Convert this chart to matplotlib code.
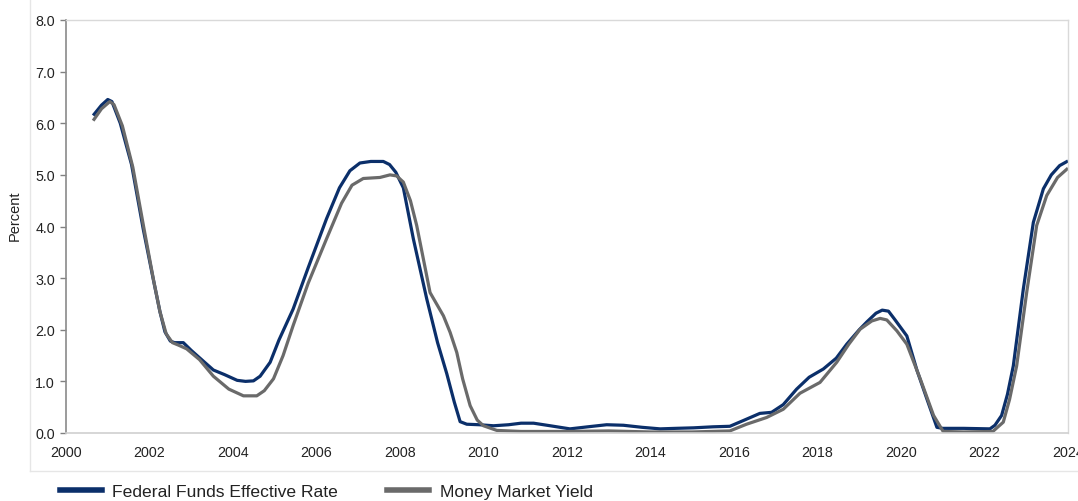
import matplotlib
matplotlib.use("Agg")
import matplotlib.pyplot as plt
from matplotlib.lines import Line2D

plt.rcParams['font.family'] = ['Liberation Sans', 'DejaVu Sans']

fed_years = [2000.65, 2000.85, 2001.0, 2001.1, 2001.3, 2001.57, 2001.85, 2002.09, 2002.25, 2002.37,
             2002.5, 2002.6, 2002.81, 2003.0, 2003.25, 2003.53, 2003.8, 2004.1, 2004.3, 2004.49,
             2004.65, 2004.89, 2005.1, 2005.44, 2005.8, 2006.24, 2006.55, 2006.8, 2007.04, 2007.3,
             2007.6, 2007.75, 2007.9, 2008.08, 2008.32, 2008.64, 2008.9, 2009.12, 2009.3, 2009.44,
             2009.6, 2009.9, 2010.24, 2010.6, 2010.9, 2011.2, 2011.6, 2012.07, 2012.5, 2012.95,
             2013.35, 2013.8, 2014.23, 2014.6, 2015.03, 2015.5, 2015.9, 2016.22, 2016.62, 2016.9,
             2017.18, 2017.5, 2017.8, 2018.14, 2018.45, 2018.7, 2019.0, 2019.18, 2019.4, 2019.55,
             2019.7, 2019.85, 2020.14, 2020.38, 2020.62, 2020.86, 2021.0, 2021.5, 2022.13, 2022.25,
             2022.41, 2022.55, 2022.69, 2022.93, 2023.17, 2023.41, 2023.6, 2023.8, 2024.0]
fed_rate = [6.15, 6.35, 6.46, 6.42, 6.0, 5.2, 3.95, 2.98, 2.35, 1.96,
            1.78, 1.75, 1.75, 1.6, 1.42, 1.22, 1.13, 1.02, 1.0, 1.01,
            1.1, 1.37, 1.8, 2.4, 3.2, 4.15, 4.75, 5.08, 5.23, 5.26,
            5.26, 5.2, 5.05, 4.75, 3.76, 2.6, 1.75, 1.15, 0.6, 0.22,
            0.17, 0.16, 0.14, 0.16, 0.19, 0.19, 0.14, 0.08, 0.12, 0.16,
            0.15, 0.11, 0.08, 0.09, 0.10, 0.12, 0.13, 0.24, 0.38, 0.40,
            0.55, 0.85, 1.08, 1.24, 1.45, 1.72, 2.0, 2.15, 2.32, 2.38,
            2.36, 2.2, 1.88, 1.22, 0.66, 0.11, 0.09, 0.09, 0.08, 0.15,
            0.34, 0.75, 1.30, 2.79, 4.08, 4.73, 5.0, 5.18, 5.27]

mm_years = [2000.65, 2000.85, 2001.05, 2001.15, 2001.35, 2001.6, 2001.87, 2002.1, 2002.25, 2002.4,
            2002.55, 2002.7, 2002.89, 2003.2, 2003.53, 2003.9, 2004.25, 2004.57, 2004.75, 2004.97,
            2005.2, 2005.44, 2005.8, 2006.24, 2006.6, 2006.85, 2007.12, 2007.52, 2007.76, 2007.92,
            2008.08, 2008.25, 2008.4, 2008.72, 2009.04, 2009.2, 2009.36, 2009.5, 2009.68, 2009.85,
            2010.0, 2010.32, 2010.9, 2012.0, 2013.0, 2014.0, 2015.0, 2015.9, 2016.3, 2016.78,
            2017.18, 2017.58, 2018.06, 2018.46, 2018.75, 2019.02, 2019.3, 2019.5, 2019.66, 2019.9,
            2020.14, 2020.46, 2020.78, 2021.01, 2021.5, 2022.2, 2022.45, 2022.6, 2022.77, 2023.01,
            2023.25, 2023.49, 2023.75, 2024.0]
mm_yield = [6.05, 6.28, 6.42, 6.36, 5.95, 5.15, 3.95, 2.95, 2.35, 1.92,
            1.75, 1.7, 1.63, 1.42, 1.1, 0.85, 0.72, 0.72, 0.82, 1.05,
            1.5, 2.08, 2.9, 3.76, 4.45, 4.8, 4.93, 4.95, 5.0, 4.98,
            4.86, 4.5, 4.02, 2.72, 2.27, 1.95, 1.56, 1.05, 0.53, 0.25,
            0.14, 0.05, 0.03, 0.03, 0.04, 0.02, 0.02, 0.04, 0.17, 0.30,
            0.46, 0.77, 0.98, 1.37, 1.72, 2.01, 2.17, 2.22, 2.19, 1.98,
            1.72, 1.05, 0.34, 0.03, 0.02, 0.03, 0.21, 0.65, 1.30, 2.72,
            4.02, 4.60, 4.95, 5.13]

x_ticks = [2000, 2002, 2004, 2006, 2008, 2010, 2012, 2014, 2016, 2018, 2020, 2022, 2024]
y_ticks = [0, 1, 2, 3, 4, 5, 6, 7, 8]

BLUE = '#0B2F6A'
GRAY = '#6A6A6A'

W, H = 1078, 502
fig = plt.figure(figsize=(W / 100, H / 100), dpi=100)
ax = fig.add_axes([66 / W, 1 - 434 / H, (1068 - 66) / W, (434 - 21) / H])

ax.plot(fed_years, fed_rate, color=BLUE, lw=2.3, solid_capstyle='butt', solid_joinstyle='round')
ax.plot(mm_years, mm_yield, color=GRAY, lw=2.3, solid_capstyle='butt', solid_joinstyle='round')

ax.set_xlim(2000, 2024)
ax.set_ylim(0, 8)
ax.set_xticks(x_ticks)
ax.set_xticklabels([str(t) for t in x_ticks], fontsize=10.3, color='#222222')
ax.set_yticks(y_ticks)
ax.set_yticklabels([f"{t:.1f}" for t in y_ticks], fontsize=10.3, color='#222222')
ax.tick_params(axis='x', length=0, pad=9)
ax.tick_params(axis='y', length=4, width=1, color='#808080', pad=4, direction='out')

for s in ['left', 'bottom']:
    ax.spines[s].set_color('#8A8A8A')
    ax.spines[s].set_linewidth(1.2)
for s in ['top', 'right']:
    ax.spines[s].set_color('#D9D9D9')
    ax.spines[s].set_linewidth(1.0)
ax.spines['bottom'].set_color('#D0D0D0')

fig.text(15 / W, 1 - 216 / H, 'Percent', rotation=90, ha='center', va='center', fontsize=10.5, color='#222222')

# outer chart frame (faint)
fig.add_artist(Line2D([30 / W, 30 / W], [1 - 472 / H, 1.0], color='#E6E6E6', lw=1.0))
fig.add_artist(Line2D([30 / W, 1.0], [1 - 472 / H, 1 - 472 / H], color='#E6E6E6', lw=1.0))

handles = [Line2D([], [], color=BLUE, lw=4), Line2D([], [], color=GRAY, lw=4)]
fig.legend(handles, ['Federal Funds Effective Rate', 'Money Market Yield'],
           loc='center left', bbox_to_anchor=(60 / W, 1 - 492 / H), ncol=2, frameon=False,
           fontsize=12.6, handlelength=2.4, handletextpad=0.6, columnspacing=2.8,
           borderpad=0, borderaxespad=0, labelcolor='#222222')

fig.savefig('out.png', dpi=100)
